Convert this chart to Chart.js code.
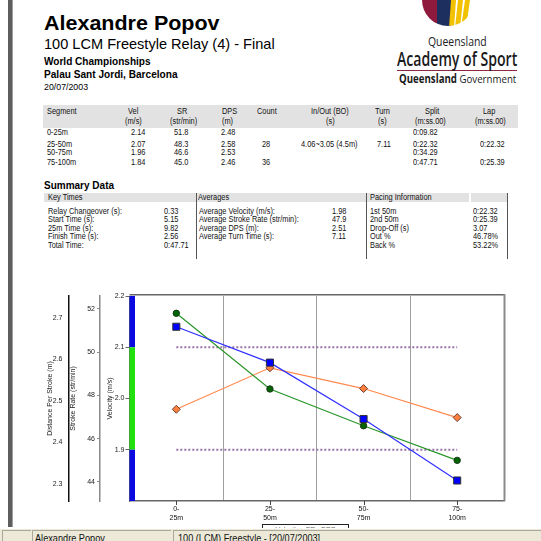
<!DOCTYPE html>
<html><head><meta charset="utf-8">
<script src="https://cdn.jsdelivr.net/npm/chart.js@4.4.1/dist/chart.umd.min.js"></script>
<style>
html,body{margin:0;padding:0;background:#fff;}
body{width:541px;height:541px;overflow:hidden;position:relative;font-family:'Liberation Sans',Arial,sans-serif;color:#000;}
.t{position:absolute;white-space:nowrap;line-height:1;}
.abs{position:absolute;}
</style></head><body>
<div class="abs" style="left:8px;top:0;width:4px;height:527px;background:#5e5e5e;border-right:1px solid #a0a0a0;"></div>
<svg class="abs" style="left:420px;top:0" width="60" height="30" viewBox="420 0 60 30">
  <defs><clipPath id="cl"><circle cx="448" cy="0" r="26"/></clipPath></defs>
  <g clip-path="url(#cl)">
    <rect x="420" y="0" width="17" height="30" fill="#8e1b3e"/>
    <rect x="437" y="0" width="14" height="30" fill="#1d2f5f"/>
    <rect x="451" y="0" width="29" height="30" fill="#fff"/>
    <path d="M451 0 L456 0 L454 28 L449 28Z" fill="#f2c200"/>
    <path d="M458 0 L463 0 L460 28 L455 28Z" fill="#f2c200"/>
    <path d="M465 0 L470 0 L466 28 L461 28Z" fill="#f2c200"/>
  </g>
</svg>
<div class="abs" style="left:397px;top:69.5px;width:120px;height:1.2px;background:#8b2943;"></div>
<div class="abs" style="left:43px;top:105px;width:475px;height:22.5px;background:#e2e2e2;"></div>
<div class="abs" style="left:44px;top:193px;width:425px;height:9px;background:#e2e2e2;"></div>
<div class="abs" style="left:471px;top:193px;width:36px;height:9px;background:#e2e2e2;"></div>
<div class="abs" style="left:195.5px;top:193px;width:1px;height:66px;background:#555;"></div>
<div class="abs" style="left:365.5px;top:193px;width:1px;height:66px;background:#555;"></div>
<div class="abs" style="left:506.5px;top:193px;width:1px;height:66px;background:#555;"></div>
<canvas id="c" width="541" height="245" style="position:absolute;left:0;top:280px;width:541px;height:245px;"></canvas>
<div class="abs" style="left:262px;top:524px;width:85px;height:10px;border:1px solid #222;background:#fff;overflow:hidden;font-size:7px;line-height:9px;text-align:center;color:#666;">Velocity &nbsp; SR &nbsp; DPS</div>
<div class="abs" style="left:0;top:528px;width:541px;height:13px;background:#ece9d8;border-top:1px solid #fff;z-index:5;"></div>
<div class="abs" style="left:2px;top:530px;width:28px;height:11px;border-left:1px solid #aca899;border-top:1px solid #aca899;z-index:6;"></div>
<div class="abs" style="left:32px;top:530px;width:138px;height:11px;border-left:1px solid #aca899;border-top:1px solid #aca899;z-index:6;"></div>
<div class="abs" style="left:173px;top:530px;width:368px;height:11px;border-left:1px solid #aca899;border-top:1px solid #aca899;z-index:6;"></div>
<script>
// ---- data ----
const segments = ['0-25m', '25-50m', '50-75m', '75-100m'];
const categories = [['0-', '25m'], ['25-', '50m'], ['50-', '75m'], ['75-', '100m']];
const velocity = [2.14, 2.07, 1.96, 1.84];
const strokeRate = [51.8, 48.3, 46.6, 45.0];
const dps = [2.48, 2.58, 2.53, 2.46];
const strokeCount = ['', '28', '', '36'];
const inOut = ['', '4.06~3.05 (4.5m)', '', ''];
const turnTime = ['', '7.11', '', ''];
const splits = ['0:09.82', '0:22.32', '0:34.29', '0:47.71'];
const laps = ['', '0:22.32', '', '0:25.39'];
const targetUpper = [2.1, 2.1, 2.1, 2.1];
const targetLower = [1.9, 1.9, 1.9, 1.9];
const velTicks = [1.9, 2.0, 2.1, 2.2];
const srTicks = [44, 46, 48, 50, 52];
const dpsTicks = [2.3, 2.4, 2.5, 2.6, 2.7];
const velBandEdges = [2.2, 2.1, 1.9, 1.8];
const velBandColors = ['#0a0ae0', '#22e010', '#0a0ae0'];
const keyTimes = [['Relay Changeover (s):', '0.33'], ['Start Time (s):', '5.15'], ['25m Time (s):', '9.82'], ['Finish Time (s):', '2.56'], ['Total Time:', '0:47.71']];
const averages = [['Average Velocity (m/s):', '1.98'], ['Average Stroke Rate (str/min):', '47.9'], ['Average DPS (m):', '2.51'], ['Average Turn Time (s):', '7.11']];
const pacing = [['1st 50m', '0:22.32'], ['2nd 50m', '0:25.39'], ['Drop-Off (s)', '3.07'], ['Out %', '46.78%'], ['Back %', '53.22%']];

// ---- text helpers ----
const LIB = "'Liberation Sans', Arial, sans-serif";
const OPEN = "'Open Sans', 'Liberation Sans', sans-serif";
function T(txt, x, base, o) {
  o = o || {};
  const s = document.createElement('span');
  s.className = 't';
  const size = o.size || 8;
  s.style.fontFamily = o.fam || LIB;
  s.style.fontSize = size + 'px';
  if (o.weight) s.style.fontWeight = o.weight;
  if (o.ls != null) s.style.letterSpacing = o.ls + 'px';
  if (o.color) s.style.color = o.color;
  if (o.z) s.style.zIndex = o.z;
  if (o.html) s.innerHTML = txt; else s.textContent = txt;
  document.body.appendChild(s);
  const asc = o.asc || 0.8465;
  s.style.top = (base - asc * size) + 'px';
  let w = s.offsetWidth, sx = 1;
  if (o.fit) { sx = o.fit / w; w = o.fit; }
  else if (o.sx) { sx = o.sx; w = w * sx; }
  let left = x;
  if (o.align === 'center') left = x - w / 2; else if (o.align === 'right') left = x - w;
  s.style.left = left + 'px';
  if (sx !== 1) { s.style.transformOrigin = '0 0'; s.style.transform = 'scaleX(' + sx + ')'; }
  return s;
}
function C(txt, x, cy, align, o) {
  o = Object.assign({size: 8.5, sx: 0.87, color: '#111'}, o || {});
  o.align = align;
  return T(txt, x, cy + 0.36 * o.size, o);
}

// header
T('Alexandre Popov', 44, 29.5, {size: 21, weight: 'bold', fit: 176});
T('100 LCM Freestyle Relay (4) - Final', 44, 49, {size: 14.5, fit: 231});
T('World Championships', 44, 65, {size: 11, weight: 'bold', fit: 107});
T('Palau Sant Jordi, Barcelona', 44, 78.5, {size: 11, weight: 'bold', fit: 134});
T('20/07/2003', 44, 91, {size: 9, fit: 44});
// logo text
T('Queensland', 428, 46.5, {size: 12, fam: OPEN, asc: 0.888, fit: 59, color: '#222'});
T('Academy of Sport', 397, 66, {size: 19.5, fam: OPEN, weight: 600, asc: 0.888, fit: 120, color: '#1a1a1a'});
T('<b>Queensland</b> Government', 399, 83, {size: 11.5, fam: OPEN, asc: 0.888, fit: 117, html: true, color: '#1a1a1a'});

// segment table
const h1 = 111.5, h2 = 121;
C('Segment', 47, h1, 'left');
C('Vel', 133, h1, 'center'); C('(m/s)', 133.5, h2, 'center');
C('SR', 182, h1, 'center'); C('(str/min)', 183, h2, 'center');
C('DPS', 222, h1, 'left'); C('(m)', 222, h2, 'left');
C('Count', 267.5, h1, 'center');
C('In/Out (BO)', 330, h1, 'center'); C('(s)', 330, h2, 'center');
C('Turn', 382, h1, 'center'); C('(s)', 382, h2, 'center');
C('Split', 432, h1, 'center'); C('(m:ss.00)', 430, h2, 'center');
C('Lap', 489, h1, 'center'); C('(m:ss.00)', 490, h2, 'center');
const rowY = [132, 144, 152, 162];
segments.forEach((s, i) => {
  const y = rowY[i];
  C(s, 47, y, 'left');
  C(velocity[i].toFixed(2), 138, y, 'center');
  C(strokeRate[i].toFixed(1), 181, y, 'center');
  C(dps[i].toFixed(2), 221, y, 'left');
  C(strokeCount[i], 266, y, 'center');
  C(inOut[i], 329, y, 'center');
  C(turnTime[i], 384, y, 'center');
  C(splits[i], 425, y, 'center');
  C(laps[i], 492, y, 'center');
});

// summary
T('Summary Data', 44, 189.5, {size: 11, weight: 'bold', fit: 70});
C('Key Times', 47.5, 197.5, 'left');
C('Averages', 197.5, 197.5, 'left');
C('Pacing Information', 369.5, 197.5, 'left');
const sumY = [211, 219.5, 228, 236.5, 245];
keyTimes.forEach((r, i) => { C(r[0], 47.5, sumY[i], 'left'); C(r[1], 164, sumY[i], 'left'); });
averages.forEach((r, i) => { C(r[0], 198.5, sumY[i], 'left'); C(r[1], 332, sumY[i], 'left'); });
pacing.forEach((r, i) => { C(r[0], 369.5, sumY[i], 'left'); C(r[1], 473, sumY[i], 'left'); });

// status bar
T('Alexandre Popov', 35, 542, {size: 11, fit: 70, z: 7, color: '#111'});
T('100 (LCM) Freestyle - [20/07/2003]', 178, 542, {size: 11, fit: 142, z: 7, color: '#111'});

// ---- chart ----
const tickFont = {family: LIB, size: 7};
const titleFont = {family: LIB, size: 7};
const framePlugin = {
  id: 'frame',
  beforeDatasetsDraw(chart) {
    const {ctx, chartArea: a, scales} = chart;
    const yv = scales.yVel;
    ctx.save();
    for (let i = 0; i < velBandColors.length; i++) {
      const y1 = yv.getPixelForValue(velBandEdges[i]);
      const y2 = yv.getPixelForValue(velBandEdges[i + 1]);
      ctx.fillStyle = velBandColors[i];
      ctx.fillRect(a.left, y1, 5.5, y2 - y1);
    }
    ctx.strokeStyle = '#666';
    ctx.lineWidth = 1.5;
    ctx.beginPath(); ctx.moveTo(a.left, a.top - 1.2); ctx.lineTo(a.right + 1, a.top - 1.2); ctx.stroke();
    ctx.strokeStyle = '#8a8a8a';
    ctx.lineWidth = 2;
    ctx.beginPath(); ctx.moveTo(a.right + 0.5, a.top - 2); ctx.lineTo(a.right + 0.5, a.bottom); ctx.stroke();
    ctx.strokeStyle = '#444';
    ctx.lineWidth = 1;
    categories.forEach((c, i) => {
      const x = Math.round(scales.x.getPixelForValue(i)) + 0.5;
      ctx.beginPath(); ctx.moveTo(x, a.bottom); ctx.lineTo(x, a.bottom + 4); ctx.stroke();
    });
    ctx.restore();
  }
};

new Chart(document.getElementById('c'), {
  type: 'line',
  data: {
    labels: categories,
    datasets: [
      {label: 'Velocity', data: velocity, yAxisID: 'yVel', borderColor: '#3030ff', borderWidth: 1.2,
       pointStyle: 'rect', pointRadius: 5, pointBackgroundColor: '#0000ff', pointBorderColor: '#333', pointBorderWidth: 1},
      {label: 'Stroke Rate', data: strokeRate, yAxisID: 'ySR', borderColor: '#2a962a', borderWidth: 1.2,
       pointStyle: 'circle', pointRadius: 3.2, pointBackgroundColor: '#006400', pointBorderColor: '#1a3a1a', pointBorderWidth: 1},
      {label: 'DPS', data: dps, yAxisID: 'yDPS', borderColor: '#ff8a50', borderWidth: 1.2,
       pointStyle: 'rectRot', pointRadius: 4, pointBackgroundColor: '#ff7f3f', pointBorderColor: '#6a4030', pointBorderWidth: 1},
      {label: 'Target high', data: targetUpper, yAxisID: 'yVel', borderColor: '#9b72a8', borderWidth: 2, borderDash: [2, 2], pointRadius: 0},
      {label: 'Target low', data: targetLower, yAxisID: 'yVel', borderColor: '#9b72a8', borderWidth: 2, borderDash: [2, 2], pointRadius: 0}
    ]
  },
  options: {
    responsive: false, animation: false, devicePixelRatio: 1,
    layout: {padding: {left: 45, right: 37, top: 16, bottom: 0}},
    plugins: {legend: {display: false}, tooltip: {enabled: false}},
    elements: {line: {tension: 0}},
    scales: {
      x: {
        type: 'category', offset: true,
        grid: {offset: true, color: '#a0a0a0', lineWidth: 1, drawTicks: false},
        border: {display: true, color: '#666', width: 1.5},
        ticks: {font: {family: LIB, size: 7, lineHeight: 9 / 7}, color: '#111', padding: 3.5, maxRotation: 0, autoSkip: false},
        afterFit: s => { s.height = 24; }
      },
      yVel: {
        position: 'left', weight: 0, min: 1.8, max: 2.2,
        afterBuildTicks: s => { s.ticks = velTicks.map(v => ({value: v})); },
        ticks: {callback: v => Number(v).toFixed(1), font: tickFont, color: '#222', padding: 1},
        grid: {drawOnChartArea: false, tickLength: 4, color: '#666'},
        border: {color: '#666', width: 1},
        title: {display: true, text: 'Velocity (m/s)', font: titleFont, color: '#222', padding: {top: 5.6, bottom: 0}},
        afterFit: s => { s.width = 29.5; }
      },
      ySR: {
        position: 'left', weight: 1, min: 43.12, max: 52.6,
        afterBuildTicks: s => { s.ticks = srTicks.map(v => ({value: v})); },
        ticks: {callback: v => String(v), font: tickFont, color: '#222', padding: 2},
        grid: {drawOnChartArea: false, tickLength: 3, color: '#888'},
        border: {color: '#8a8a8a', width: 1.5},
        title: {display: true, text: 'Stroke Rate (str/min)', font: titleFont, color: '#222', padding: {top: 0, bottom: 0}},
        afterFit: s => { s.width = 31; }
      },
      yDPS: {
        position: 'left', weight: 2, min: 2.259, max: 2.753,
        afterBuildTicks: s => { s.ticks = dpsTicks.map(v => ({value: v})); },
        ticks: {callback: v => Number(v).toFixed(1), font: tickFont, color: '#222', padding: 6.5},
        grid: {drawOnChartArea: false, drawTicks: false},
        border: {color: '#111', width: 1.5},
        title: {display: true, text: 'Distance Per Stroke (m)', font: titleFont, color: '#222', padding: {top: 0.6, bottom: 0}},
        afterFit: s => { s.width = 24; }
      }
    }
  },
  plugins: [framePlugin]
});
</script>
</body></html>
